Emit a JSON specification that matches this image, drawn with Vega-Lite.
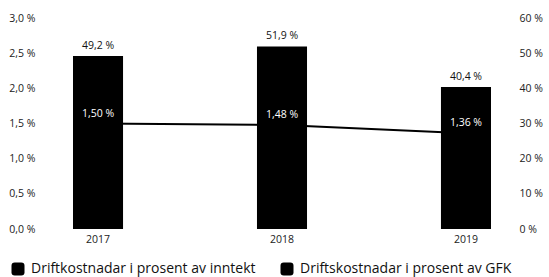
{
  "$schema": "https://vega.github.io/schema/vega-lite/v6.json",
  "width": 464,
  "height": 211,
  "autosize": "none",
  "padding": {"top": 18, "left": 50, "right": 35, "bottom": 48},
  "config": {
    "locale": {"number": {"decimal": ",", "thousands": " ", "grouping": [3], "currency": ["", " %"]}},
    "font": "Open Sans",
    "view": {"stroke": null},
    "axis": {"grid": false, "domain": false, "ticks": false, "labelFont": "Open Sans", "labelFontSize": 10.5, "labelColor": "#222", "title": null}
  },
  "data": {"values": [
    {"year": "2017", "inntekt": 49.2, "gfk": 1.50},
    {"year": "2018", "inntekt": 51.9, "gfk": 1.48},
    {"year": "2019", "inntekt": 40.4, "gfk": 1.36}
  ]},
  "encoding": {
    "x": {"field": "year", "type": "nominal", "scale": {"paddingInner": 0.728, "paddingOuter": 0.125}, "axis": {"labelAngle": 0, "labelPadding": 5}}
  },
  "layer": [
    {
      "mark": {"type": "line", "strokeWidth": 2, "color": "black"},
      "encoding": {
        "y": {"field": "gfk", "type": "quantitative", "scale": {"domain": [0, 3]}, "axis": {"values": [0, 0.5, 1, 1.5, 2, 2.5, 3], "format": "$.1f", "labelPadding": 15}}
      }
    },
    {
      "mark": {"type": "bar", "color": "black"},
      "encoding": {
        "y": {"field": "inntekt", "type": "quantitative", "scale": {"domain": [0, 60]}, "axis": {"values": [0, 10, 20, 30, 40, 50, 60], "format": "$.0f", "orient": "right", "labelPadding": 5}},
        "color": {
          "datum": "Driftkostnadar i prosent av inntekt",
          "scale": {"domain": ["Driftkostnadar i prosent av inntekt", "Driftskostnadar i prosent av GFK"], "range": ["black", "black"]},
          "legend": {
            "orient": "none", "legendX": -39, "legendY": 244, "direction": "horizontal", "title": null,
            "symbolType": "M-1,-0.5 Q-1,-1 -0.5,-1 L0.5,-1 Q1,-1 1,-0.5 L1,0.5 Q1,1 0.5,1 L-0.5,1 Q-1,1 -1,0.5 Z",
            "symbolSize": 169, "symbolStrokeWidth": 0, "labelFontSize": 14, "labelColor": "#111", "labelFont": "Open Sans",
            "labelOffset": 6, "columnPadding": 24, "labelLimit": 400, "padding": 0
          }
        }
      }
    },
    {
      "mark": {"type": "text", "color": "#111", "dy": -10, "fontSize": 10.5},
      "encoding": {
        "y": {"field": "inntekt", "type": "quantitative", "scale": {"domain": [0, 60]}, "axis": null},
        "text": {"field": "inntekt", "type": "quantitative", "format": "$.1f"}
      }
    },
    {
      "mark": {"type": "text", "color": "white", "dy": -10, "fontSize": 10.5},
      "encoding": {
        "y": {"field": "gfk", "type": "quantitative", "scale": {"domain": [0, 3]}, "axis": null},
        "text": {"field": "gfk", "type": "quantitative", "format": "$.2f"}
      }
    }
  ],
  "resolve": {"scale": {"y": "independent"}}
}
